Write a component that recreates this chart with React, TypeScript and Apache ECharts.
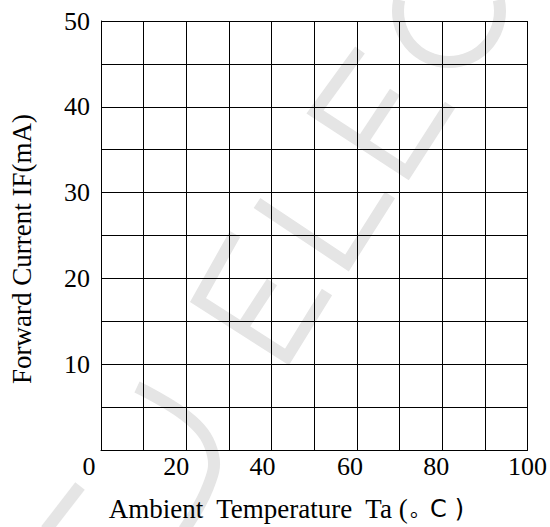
import React, { useEffect, useRef } from "react";
import * as echarts from "echarts";

// Axis ranges and ticks
const xMin = 0;
const xMax = 100;
const xStep = 10;
const yMin = 0;
const yMax = 50;
const yStep = 5;
const xTickLabels = [0, 20, 40, 60, 80, 100];
const yTickLabels = [10, 20, 30, 40, 50];

// Titles
const xAxisTitle = "Ambient  Temperature  Ta (";
const xAxisDegree = "。";
const xAxisUnit = "C";
const xAxisClose = ")";
const yAxisTitle = "Forward Current IF(mA)";

// The chart is an empty grid (no data series)
const seriesData: number[][] = [];

// Styling constants
const SERIF = "'Liberation Serif', 'Times New Roman', serif";
const CJK = "'Noto Sans CJK SC', 'Noto Sans', sans-serif";
const SANS = "'DejaVu Sans', 'Noto Sans', sans-serif";
const LABEL_SHIFT = [12, 10, 9, 7, 6, 0]; // px shift to the left of each x label
const WM_COLOR = "#e5e5e5";
const WM_WIDTH = 12;

// Faint background watermark strokes (decoration only)
const WM_LINES: { pts: number[][]; smooth?: number }[] = [
  { pts: [[137, 387], [192, 421], [213, 455], [208, 487], [184, 530]], smooth: 0.4 },
  { pts: [[80, 486], [46, 530]] },
  { pts: [[235, 234], [198, 300], [287, 357], [327, 292]] },
  { pts: [[242, 328], [272, 282]] },
  { pts: [[257, 203], [347, 263], [390, 195]] },
  { pts: [[360, 50], [315, 112], [407, 172], [450, 105]] },
  { pts: [[362, 142], [395, 92]] },
];

export default function App() {
  const ref = useRef<HTMLDivElement>(null);

  useEffect(() => {
    if (!ref.current) return;
    const chart = echarts.init(ref.current, undefined, { renderer: "svg" });

    const rich: Record<string, any> = {};
    xTickLabels.forEach((_, i) => {
      rich["s" + i] = {
        fontFamily: SERIF,
        fontSize: 26,
        color: "#000",
        padding: [0, LABEL_SHIFT[i] * 2, 0, 0],
      };
    });

    const graphics: any[] = WM_LINES.map((l) => ({
      type: "polyline",
      z: -100,
      silent: true,
      shape: { points: l.pts, smooth: l.smooth || 0 },
      style: { stroke: WM_COLOR, lineWidth: WM_WIDTH, fill: null, lineJoin: "miter" },
    }));
    graphics.push({
      type: "arc",
      z: -100,
      silent: true,
      shape: { cx: 449, cy: 11, r: 51, startAngle: -0.22, endAngle: Math.PI + 0.22, clockwise: true },
      style: { stroke: WM_COLOR, lineWidth: WM_WIDTH, fill: null },
    });

    chart.setOption({
      animation: false,
      backgroundColor: "#fff",
      graphic: { elements: graphics },
      grid: { left: 98, top: 21, width: 432, height: 431, containLabel: false },
      xAxis: {
        type: "value",
        min: xMin,
        max: xMax,
        interval: xStep,
        axisLine: { show: true, lineStyle: { color: "#000", width: 1 } },
        axisTick: { show: false },
        splitLine: { show: true, lineStyle: { color: "#000", width: 1 } },
        axisLabel: {
          margin: 3,
          fontFamily: SERIF,
          fontSize: 26,
          color: "#000",
          formatter: (v: number) => {
            const i = xTickLabels.indexOf(v);
            return i >= 0 ? `{s${i}|${v}}` : "";
          },
          rich,
        },
        name: `{a|${xAxisTitle}}{b|${xAxisDegree}}{c|${xAxisUnit}}{d|${xAxisClose}}`,
        nameLocation: "middle",
        nameGap: 45,
        nameTextStyle: {
          padding: [0, 56, 0, 0],
          rich: {
            a: { fontFamily: SERIF, fontSize: 27, color: "#000" },
            b: { fontFamily: CJK, fontSize: 20, color: "#000", padding: [0, 0, 0, 2] },
            c: { fontFamily: SANS, fontSize: 24, color: "#000" },
            d: { fontFamily: SANS, fontSize: 24, color: "#000", padding: [0, 0, 0, 8] },
          },
        },
      },
      yAxis: {
        type: "value",
        min: yMin,
        max: yMax,
        interval: yStep,
        axisLine: { show: true, lineStyle: { color: "#000", width: 1 } },
        axisTick: { show: false },
        splitLine: { show: true, lineStyle: { color: "#000", width: 1 } },
        axisLabel: {
          margin: 11,
          fontFamily: SERIF,
          fontSize: 26,
          color: "#000",
          formatter: (v: number) => (yTickLabels.indexOf(v) >= 0 ? String(v) : ""),
        },
        name: yAxisTitle,
        nameLocation: "middle",
        nameGap: 66,
        nameTextStyle: {
          fontFamily: SERIF,
          fontSize: 27,
          color: "#000",
          padding: [0, 27, 0, 0],
        },
      },
      series: [
        {
          type: "line",
          data: seriesData,
          silent: true,
        },
      ],
    });

    return () => chart.dispose();
  }, []);

  return (
    <div
      ref={ref}
      style={{ position: "fixed", left: 0, top: 0, width: 550, height: 527, background: "#fff" }}
    />
  );
}
